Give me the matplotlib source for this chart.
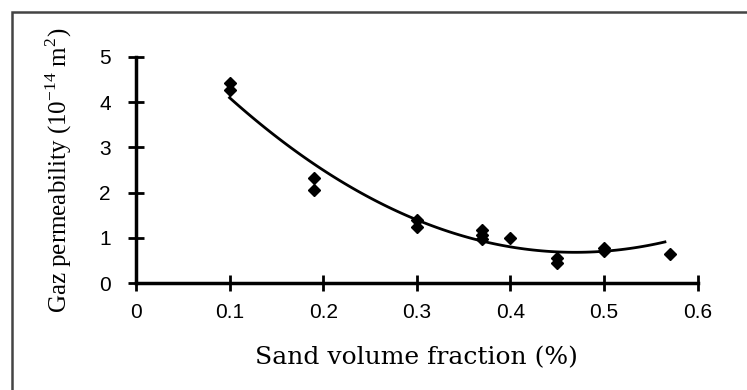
import numpy as np
import matplotlib.pyplot as plt
from matplotlib.patches import Rectangle

# sand volume fraction and measured gas permeability
sand_frac = [0.10, 0.10, 0.19, 0.19, 0.30, 0.30, 0.37, 0.37, 0.37, 0.40, 0.45, 0.45, 0.50, 0.50, 0.57]
perm = [4.42, 4.28, 2.33, 2.05, 1.40, 1.24, 1.17, 1.06, 0.97, 1.00, 0.55, 0.44, 0.77, 0.72, 0.64]

# polynomial trend line (a*x^2 + b*x + c), drawn over this range
trend_coef = [25.06, -23.52, 6.20]
trend_range = [0.1, 0.565]

x_ticks = [0, 0.1, 0.2, 0.3, 0.4, 0.5, 0.6]
y_ticks = [0, 1, 2, 3, 4, 5]

plt.rcParams['mathtext.fontset'] = 'custom'
plt.rcParams['mathtext.rm'] = 'Liberation Serif'

fig = plt.figure(figsize=(7.47, 3.9), dpi=100)
ax = fig.add_axes([0.182, 0.274, 0.752, 0.580])

# outer frame of the picture
fig.patches.append(Rectangle((12/747, -0.05), 1.1, 1 - 12/390 + 0.05, transform=fig.transFigure,
                             fill=False, edgecolor='#444444', lw=1.8))

ax.plot(sand_frac, perm, 'D', color='black', ms=6)

xx = np.linspace(trend_range[0], trend_range[1], 100)
ax.plot(xx, np.polyval(trend_coef, xx), color='black', lw=2)

ax.set_xlim(0, 0.6)
ax.set_ylim(0, 5)
ax.set_xticks(x_ticks)
ax.set_xticklabels(['0', '0.1', '0.2', '0.3', '0.4', '0.5', '0.6'])
ax.set_yticks(y_ticks)

for s in ['top', 'right']:
    ax.spines[s].set_visible(False)
for s in ['left', 'bottom']:
    ax.spines[s].set_linewidth(2.5)
ax.tick_params(direction='inout', length=12, width=2, labelsize=15)
ax.tick_params(axis='x', pad=8)
ax.tick_params(axis='y', pad=12)
for lab in ax.get_xticklabels() + ax.get_yticklabels():
    lab.set_family('Liberation Sans')
ax.margins(0)

ax.set_xlabel('Sand volume fraction (%)', family='DejaVu Serif', fontsize=18, labelpad=18)
ax.set_ylabel('Gaz permeability (10$^{\\mathrm{-14}}$ m$^{\\mathrm{2}}$)', family='Liberation Serif',
              fontsize=18, labelpad=18)

plt.savefig('out.png', dpi=100)
